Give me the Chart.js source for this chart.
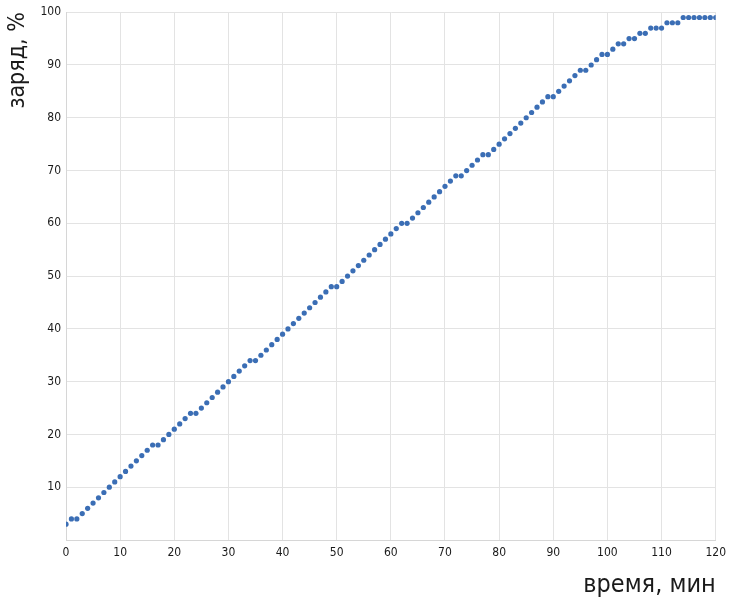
<!DOCTYPE html>
<html>
<head>
<meta charset="utf-8">
<script src="https://cdn.jsdelivr.net/npm/chart.js@4/dist/chart.umd.min.js"></script>
<style>
    html, body { margin: 0; padding: 0; background: #fff; }
    #wrap { width: 732px; height: 600px; }
</style>
</head>
<body>
<div id="wrap"><canvas id="chargeChart"></canvas></div>
<script>
// время, мин
var minutes = [
    0, 1, 2, 3, 4, 5, 6, 7, 8, 9, 10, 11, 12, 13, 14, 15, 16, 17, 18, 19, 20,
    21, 22, 23, 24, 25, 26, 27, 28, 29, 30, 31, 32, 33, 34, 35, 36, 37, 38, 39, 40,
    41, 42, 43, 44, 45, 46, 47, 48, 49, 50, 51, 52, 53, 54, 55, 56, 57, 58, 59, 60,
    61, 62, 63, 64, 65, 66, 67, 68, 69, 70, 71, 72, 73, 74, 75, 76, 77, 78, 79, 80,
    81, 82, 83, 84, 85, 86, 87, 88, 89, 90, 91, 92, 93, 94, 95, 96, 97, 98, 99, 100,
    101, 102, 103, 104, 105, 106, 107, 108, 109, 110, 111, 112, 113, 114, 115, 116, 117, 118, 119, 120
];
// заряд, %
var charge = [
    3, 4, 4, 5, 6, 7, 8, 9, 10, 11, 12, 13, 14, 15, 16, 17, 18, 18, 19, 20, 21,
    22, 23, 24, 24, 25, 26, 27, 28, 29, 30, 31, 32, 33, 34, 34, 35, 36, 37, 38, 39,
    40, 41, 42, 43, 44, 45, 46, 47, 48, 48, 49, 50, 51, 52, 53, 54, 55, 56, 57, 58,
    59, 60, 60, 61, 62, 63, 64, 65, 66, 67, 68, 69, 69, 70, 71, 72, 73, 73, 74, 75,
    76, 77, 78, 79, 80, 81, 82, 83, 84, 84, 85, 86, 87, 88, 89, 89, 90, 91, 92, 92,
    93, 94, 94, 95, 95, 96, 96, 97, 97, 97, 98, 98, 98, 99, 99, 99, 99, 99, 99, 99
];
var xTicks = [0, 10, 20, 30, 40, 50, 60, 70, 80, 90, 100, 110, 120];
var yTicks = [10, 20, 30, 40, 50, 60, 70, 80, 90, 100];

var FONT = "'DejaVu Sans Condensed', 'Liberation Sans Narrow', 'DejaVu Sans', sans-serif";

const points = minutes.map((m, i) => ({ x: m, y: charge[i] }));

new Chart(document.getElementById('chargeChart'), {
    type: 'scatter',
    data: {
        datasets: [{
            data: points,
            backgroundColor: '#3b6eb5',
            borderColor: '#3b6eb5',
            pointRadius: 2.6,
            pointBorderWidth: 0,
            showLine: false
        }]
    },
    options: {
        responsive: true,
        maintainAspectRatio: false,
        animation: false,
        layout: { padding: { left: 4, right: 15, top: 10, bottom: 0 } },
        plugins: {
            legend: { display: false },
            tooltip: { enabled: false }
        },
        scales: {
            x: {
                type: 'linear',
                min: 0,
                max: 120,
                afterBuildTicks: s => { s.ticks = xTicks.map(v => ({ value: v })); },
                afterFit: s => { s.height = 60; },
                grid: { color: '#e3e3e3', drawTicks: false },
                border: { color: '#d6d6d6' },
                ticks: {
                    padding: 6,
                    color: '#1a1a1a',
                    font: { family: FONT, size: 12, style: 'condensed' },
                    maxRotation: 0
                },
                title: {
                    display: true,
                    text: 'время, мин',
                    align: 'end',
                    color: '#1a1a1a',
                    font: { family: FONT, size: 25, style: 'condensed' },
                    padding: { top: 6, bottom: 0 }
                }
            },
            y: {
                min: 0,
                max: 100,
                afterBuildTicks: s => { s.ticks = yTicks.map(v => ({ value: v })); },
                afterFit: s => { s.width = 62; },
                grid: { color: '#e3e3e3', drawTicks: false },
                border: { color: '#d6d6d6' },
                ticks: {
                    padding: 5,
                    color: '#1a1a1a',
                    font: { family: FONT, size: 12, style: 'condensed' }
                },
                title: {
                    display: true,
                    text: 'заряд, %',
                    align: 'end',
                    color: '#1a1a1a',
                    font: { family: FONT, size: 23, style: 'condensed' },
                    padding: { top: 0, bottom: 4 }
                }
            }
        }
    }
});
</script>
</body>
</html>
